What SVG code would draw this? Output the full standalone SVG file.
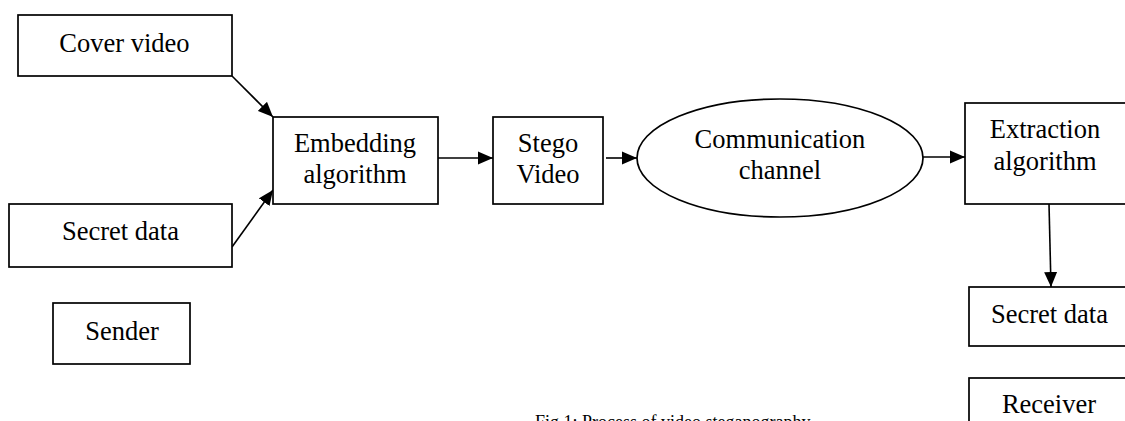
<svg xmlns="http://www.w3.org/2000/svg" width="1125" height="421" viewBox="0 0 1125 421">
  <style>
    .box { fill: #ffffff; stroke: #000000; stroke-width: 1.7; }
    .lbl { font-family: "Liberation Serif", "Times New Roman", serif; font-size: 26.5px; fill: #000000; text-anchor: middle; }
    .cap { font-family: "Liberation Serif", "Times New Roman", serif; font-size: 18px; fill: #000000; }
    .edge { fill: none; stroke: #000000; stroke-width: 1.6; marker-end: url(#arrow); }
  </style>
  <defs>
    <marker id="arrow" markerUnits="userSpaceOnUse" markerWidth="16" markerHeight="14" refX="15" refY="7" orient="auto">
      <path d="M0,0.5 L15,7 L0,13.5 z" fill="#000000"/>
    </marker>
  </defs>
  <rect width="1125" height="421" fill="#ffffff"/>

  <g id="connectors">
    <line class="edge" x1="232" y1="76" x2="273" y2="117"/>
    <line class="edge" x1="232" y1="247" x2="273" y2="190"/>
    <line class="edge" x1="438" y1="158" x2="493" y2="158"/>
    <line class="edge" x1="606" y1="158" x2="637" y2="158"/>
    <line class="edge" x1="923" y1="157" x2="965" y2="157"/>
    <line class="edge" x1="1049" y1="204" x2="1051" y2="287"/>
  </g>

  <g id="cover-video">
    <rect class="box" x="18" y="15" width="214" height="61"/>
    <text class="lbl" x="124.5" y="52">Cover video</text>
  </g>

  <g id="secret-data-in">
    <rect class="box" x="9" y="204" width="223" height="63"/>
    <text class="lbl" x="120.5" y="240">Secret data</text>
  </g>

  <g id="sender">
    <rect class="box" x="53" y="303" width="137" height="61"/>
    <text class="lbl" x="122" y="340">Sender</text>
  </g>

  <g id="embedding">
    <rect class="box" x="273" y="117" width="165" height="87"/>
    <text class="lbl" x="355" y="152">Embedding</text>
    <text class="lbl" x="355" y="183">algorithm</text>
  </g>

  <g id="stego-video">
    <rect class="box" x="493" y="117" width="110" height="87"/>
    <text class="lbl" x="548" y="152">Stego</text>
    <text class="lbl" x="548" y="183">Video</text>
  </g>

  <g id="channel">
    <ellipse class="box" cx="780" cy="158" rx="143" ry="59"/>
    <text class="lbl" x="780" y="148">Communication</text>
    <text class="lbl" x="780" y="179">channel</text>
  </g>

  <g id="extraction">
    <rect class="box" x="965" y="103" width="200" height="101"/>
    <text class="lbl" x="1045" y="138">Extraction</text>
    <text class="lbl" x="1045" y="170">algorithm</text>
  </g>

  <g id="secret-data-out">
    <rect class="box" x="969" y="287" width="200" height="59"/>
    <text class="lbl" x="1049.5" y="323">Secret data</text>
  </g>

  <g id="receiver">
    <rect class="box" x="969" y="378" width="200" height="80"/>
    <text class="lbl" x="1049" y="413">Receiver</text>
  </g>

  <!-- figure caption, sitting on the lower edge of the canvas -->
  <text class="cap" x="535" y="428">Fig 1: Process of video steganography</text>
</svg>
